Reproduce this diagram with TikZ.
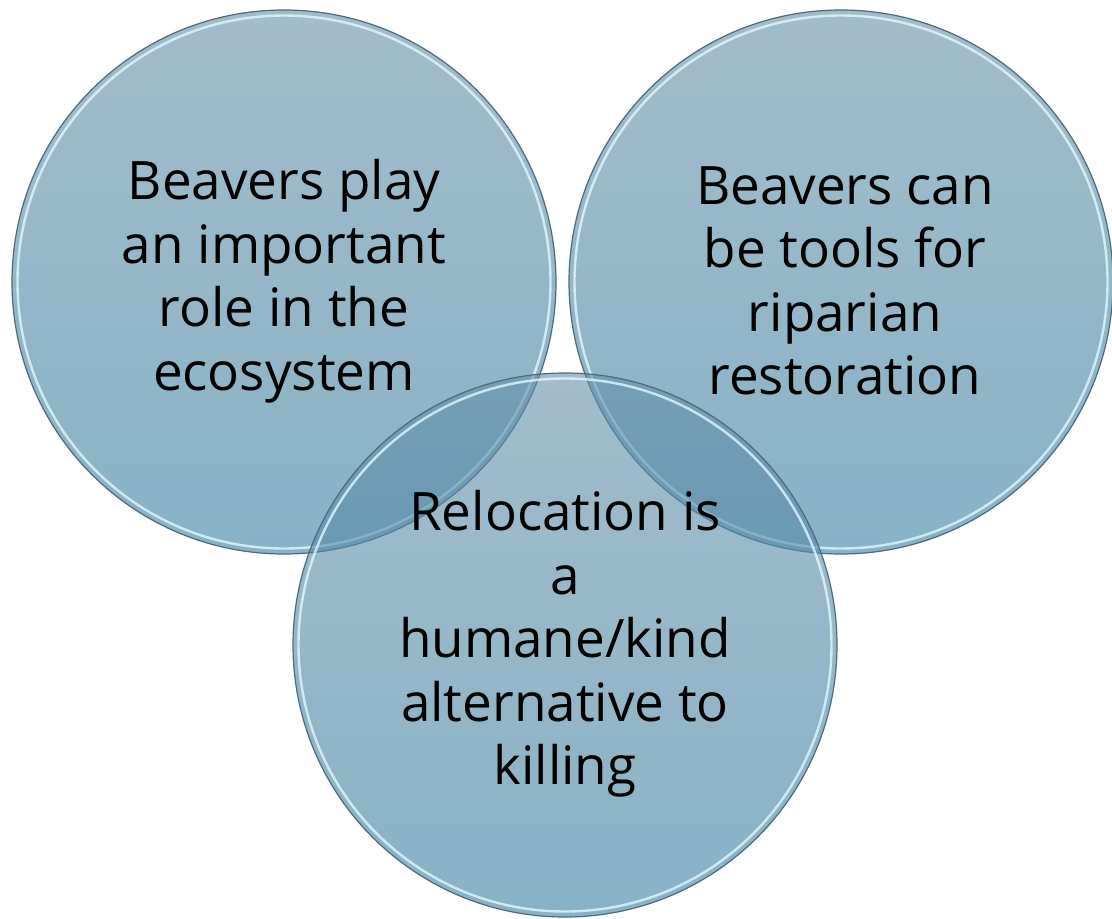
\documentclass[tikz,border=0pt]{standalone}
\usepackage{fontspec}
\setmainfont{Open Sans}
\definecolor{ctop}{RGB}{100,143,168}
\definecolor{cbot}{RGB}{57,127,160}
\definecolor{cedge}{RGB}{78,106,124}
\definecolor{cglow}{RGB}{225,248,255}
\begin{document}
\begin{tikzpicture}[x=1pt,y=-1pt,
  bubble/.style={top color=ctop,bottom color=cbot,fill opacity=0.6},
  rim/.style={draw=cedge,line width=1.2pt},
  glow/.style={draw=cglow,line width=2.4pt,opacity=0.8},
  lbl/.style={align=center,font=\fontsize{53}{63.5}\selectfont,text=black}]
\useasboundingbox (0,0) rectangle (1112,919);
\coordinate (c1) at (284,282);
\coordinate (c2) at (841,282);
\coordinate (c3) at (565,645);
\foreach \c in {c1,c2,c3}{
  \shade[bubble] (\c) circle[radius=272];
  \draw[glow] (\c) circle[radius=266.5];
  \draw[rim] (\c) circle[radius=272];
}
\node[lbl] (t1) at (284,281) {Beavers play\\an important\\role in the\\ecosystem};
\node[lbl] (t2) at (845,281) {Beavers can\\be tools for\\riparian\\restoration};
\node[lbl] (t3) at (565,644) {Relocation is\\a\\humane/kind\\alternative to\\killing};
\end{tikzpicture}
\end{document}
